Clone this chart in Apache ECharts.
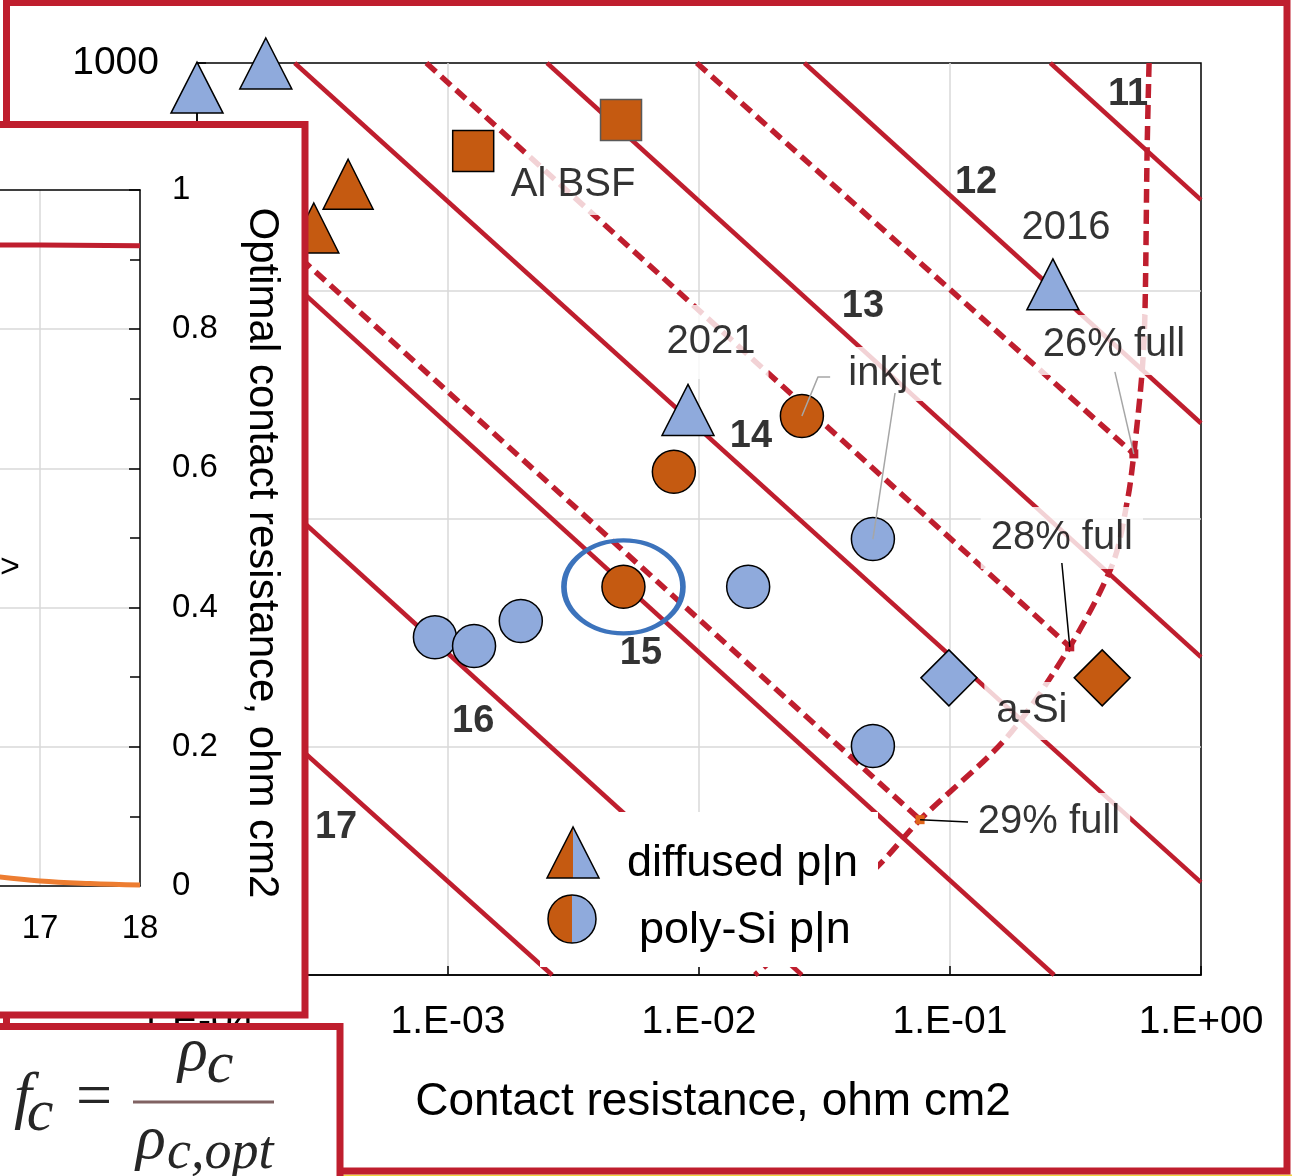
<!DOCTYPE html>
<html>
<head>
<meta charset="utf-8">
<script src="https://cdn.jsdelivr.net/npm/echarts@6/dist/echarts.min.js"></script>
<style>
  html, body { margin: 0; padding: 0; background: #fff; }
  #chart { width: 1292px; height: 1176px; }
</style>
</head>
<body>
<div id="chart"></div>
<script>
// ---------- data (contact resistance [ohm cm2], J0-type quantity on y) ----------
const effLineNames = ['11', '12', '13', '14', '15', '16', '17'];
// solid iso-efficiency lines, two end points each
const effLines = [
  [[0.251, 1000], [1, 251]],
  [[0.0263, 1000], [1, 26.3]],
  [[0.00248, 1000], [1, 2.48]],
  [[0.000245, 1000], [1, 0.255]],
  [[0.0001, 260], [0.26, 0.1]],
  [[0.0001, 25.7], [0.0257, 0.1]],
  [[0.0001, 2.5], [0.0026, 0.1]]
];
const effLabelPos = [[0.512, 724], [0.127, 298], [0.045, 85.1], [0.0161, 22.9], [0.00587, 2.58], [0.00126, 1.29], [0.000358, 0.442]];

// dashed partial-contact lines ending on the "full" curve
const partLines = [
  [[0.0098, 1000], [0.54, 19.3]],
  [[0.00082, 1000], [0.30, 2.75]],
  [[0.0001, 359], [0.076, 0.48]]
];
const fullCurve = [[0.621, 1000], [0.610, 415], [0.598, 80.2], [0.582, 43.6], [0.54, 19.3], [0.512, 12.5],
  [0.446, 6.41], [0.30, 2.75], [0.169, 1.107], [0.076, 0.48], [0.0512, 0.298], [0.0167, 0.1]];
const fullPoints = [[0.54, 19.3], [0.30, 2.75], [0.076, 0.48]];
const fullPointColors = ['#BF1E2E', '#BF1E2E', '#E0651A'];

// measured cells
const diffusedBlue = [[0.0001, 780], [0.000188, 995], [0.00904, 30.1], [0.257, 107]];
const diffusedOrange = [[0.000400, 294], [0.000292, 189]];
const polyBlue = [[0.000887, 3.03], [0.00127, 2.77], [0.00195, 3.57], [0.0157, 5.04], [0.0493, 8.17], [0.0493, 1.01]];
const polyOrange = [[0.0257, 28.3], [0.00794, 16.1], [0.0050, 5.04]];
const alBsf = [[0.00126, 411], [0.00489, 562]];
const alBsfBorders = ['#000', '#595959'];
const aSiBlue = [[0.099, 2.01]];
const aSiOrange = [[0.404, 2.01]];
const highlighted = [[0.0050, 5.04]];

// annotations
const noteTexts = ['Al BSF', '2021', 'inkjet', '2016', '26% full', '28% full', 'a-Si', '29% full'];
const notePos = [[0.00315, 292], [0.01117, 59.7], [0.0604, 43.3], [0.290, 189], [0.450, 58.0], [0.279, 8.26], [0.212, 1.44], [0.248, 0.469]];
const notePadding = [[7, 6], [14, 13], [4, 6], [0, 0], [7, 6], [8, 10], [6, 12], [6, 10]];
const grayLeaders = [
  [[0.0333, 42.0], [0.0298, 42.0], [0.0257, 28.3]],
  [[0.0604, 35.7], [0.0493, 8.17]],
  [[0.454, 44.2], [0.54, 19.3]]
];
const blackLeaders = [
  [[0.279, 6.41], [0.30, 2.75]],
  [[0.118, 0.469], [0.076, 0.48]]
];

// inset panel: optimal contact resistance
const insetRed = [[16, 0.921], [17, 0.921], [18, 0.920]];
const insetOrange = [[16.5, 0.0145], [17, 0.0072], [17.5, 0.0035], [18, 0.0014]];

// ---------- styling ----------
const FONT = 'Liberation Sans';
const SERIF = 'Liberation Serif';
const RED = '#BF1E2E';
const BLUE = '#8FAADC';
const ORANGE = '#C55A11';
const GRID = '#D9D9D9';

function fmtSci(v) {
  const e = Math.round(Math.log10(v));
  return '1.E' + (e < 0 ? '-' : '+') + String(Math.abs(e)).padStart(2, '0');
}
function fmtPlain(v) {
  const n = Number(Number(v).toPrecision(3));
  return String(n);
}

const series = [];
effLines.forEach((pts, i) => series.push({
  type: 'line', name: 'eff ' + effLineNames[i], xAxisIndex: 0, yAxisIndex: 0,
  data: pts, showSymbol: false, symbol: 'none', silent: true, z: 2,
  lineStyle: { color: RED, width: 4.5 }
}));
partLines.forEach(pts => series.push({
  type: 'line', xAxisIndex: 0, yAxisIndex: 0, data: pts, symbol: 'none', silent: true, z: 2,
  lineStyle: { color: RED, width: 5.5, type: [13, 7] }
}));
series.push({
  type: 'line', name: 'full', xAxisIndex: 0, yAxisIndex: 0, data: fullCurve, symbol: 'none',
  smooth: 0.3, silent: true, z: 2, lineStyle: { color: RED, width: 5.5, type: [14, 7] }
});
series.push({
  type: 'scatter', xAxisIndex: 0, yAxisIndex: 0, silent: true, z: 3, clip: false,
  data: fullPoints.map((p, i) => ({ value: p, itemStyle: { color: fullPointColors[i] } })),
  symbol: 'rect', symbolSize: 9, itemStyle: { opacity: 1 }
});
// annotation text boxes (white background hides the lines behind them)
series.push({
  type: 'scatter', xAxisIndex: 0, yAxisIndex: 0, silent: true, z: 3, clip: false,
  symbolSize: 1, itemStyle: { color: 'transparent' },
  data: noteTexts.map((t, i) => ({ name: t, value: notePos[i], label: { padding: notePadding[i] } })),
  label: {
    show: true, position: 'inside', formatter: '{b}', fontFamily: FONT, fontSize: 40,
    lineHeight: 46, color: '#000', backgroundColor: '#fff'
  }
});
series.push({
  type: 'scatter', xAxisIndex: 0, yAxisIndex: 0, silent: true, z: 3, clip: false,
  symbolSize: 1, itemStyle: { color: 'transparent' },
  data: effLabelPos.map((p, i) => ({ name: effLineNames[i], value: p })),
  label: {
    show: true, position: 'inside', formatter: '{b}', fontFamily: FONT, fontSize: 38,
    fontWeight: 'bold', color: '#000'
  }
});
const markerBase = { type: 'scatter', xAxisIndex: 0, yAxisIndex: 0, silent: true, z: 4, clip: false };
series.push(Object.assign({}, markerBase, {
  name: 'diffused p|n', data: diffusedBlue, symbol: 'triangle', symbolSize: [52, 51],
  itemStyle: { color: BLUE, borderColor: '#000', borderWidth: 1.5, opacity: 1 }
}));
series.push(Object.assign({}, markerBase, {
  data: diffusedOrange, symbol: 'triangle', symbolSize: [50, 50],
  itemStyle: { color: ORANGE, borderColor: '#000', borderWidth: 1.5, opacity: 1 }
}));
series.push(Object.assign({}, markerBase, {
  name: 'poly-Si p|n', data: polyBlue, symbol: 'circle', symbolSize: 43,
  itemStyle: { color: BLUE, borderColor: '#000', borderWidth: 1.5, opacity: 1 }
}));
series.push(Object.assign({}, markerBase, {
  data: polyOrange, symbol: 'circle', symbolSize: 43,
  itemStyle: { color: ORANGE, borderColor: '#000', borderWidth: 1.5, opacity: 1 }
}));
series.push(Object.assign({}, markerBase, {
  name: 'Al BSF', symbol: 'rect', symbolSize: 41,
  data: alBsf.map((p, i) => ({ value: p, itemStyle: { borderColor: alBsfBorders[i] } })),
  itemStyle: { color: ORANGE, borderWidth: 1.5, opacity: 1 }
}));
series.push(Object.assign({}, markerBase, {
  name: 'a-Si', data: aSiBlue, symbol: 'diamond', symbolSize: [56, 56],
  itemStyle: { color: BLUE, borderColor: '#000', borderWidth: 1.5, opacity: 1 }
}));
series.push(Object.assign({}, markerBase, {
  data: aSiOrange, symbol: 'diamond', symbolSize: [56, 56],
  itemStyle: { color: ORANGE, borderColor: '#000', borderWidth: 1.5, opacity: 1 }
}));
series.push(Object.assign({}, markerBase, {
  data: highlighted, symbol: 'circle', symbolSize: [119, 93],
  itemStyle: { color: 'transparent', borderColor: '#3C73BC', borderWidth: 5, opacity: 1 }
}));
grayLeaders.forEach(pts => series.push({
  type: 'line', xAxisIndex: 0, yAxisIndex: 0, data: pts, symbol: 'none', silent: true, z: 5,
  lineStyle: { color: '#A6A6A6', width: 1.5 }
}));
blackLeaders.forEach(pts => series.push({
  type: 'line', xAxisIndex: 0, yAxisIndex: 0, data: pts, symbol: 'none', silent: true, z: 5,
  lineStyle: { color: '#000', width: 1.5 }
}));
// inset curves
series.push({
  type: 'line', xAxisIndex: 1, yAxisIndex: 1, zlevel: 1, z: 6, data: insetRed, symbol: 'none',
  silent: true, lineStyle: { color: RED, width: 5 }
});
series.push({
  type: 'line', xAxisIndex: 1, yAxisIndex: 1, zlevel: 1, z: 6, data: insetOrange, symbol: 'none',
  smooth: 0.4, silent: true, lineStyle: { color: '#ED7D31', width: 5 }
});

const blackLine = { lineStyle: { color: '#000', width: 1.5 } };

const option = {
  backgroundColor: '#fff',
  animation: false,
  grid: [
    { left: 197, top: 63, width: 1004, height: 912, show: true, borderColor: '#000', borderWidth: 1.5,
      backgroundColor: 'transparent', outerBoundsMode: 'none' },
    { left: -60, top: 190, width: 200, height: 696, zlevel: 1, z: 5, outerBoundsMode: 'none' }
  ],
  xAxis: [
    { gridIndex: 0, type: 'log', logBase: 10, min: 0.0001, max: 1,
      axisLine: blackLine, axisTick: { inside: true, length: 9, lineStyle: { color: '#000', width: 1.5 } },
      splitLine: { show: true, showMinLine: false, showMaxLine: false, lineStyle: { color: GRID, width: 1.5 } },
      axisLabel: { margin: 28, fontSize: 39, fontFamily: FONT, color: '#000', formatter: fmtSci } },
    { gridIndex: 1, type: 'value', min: 16, max: 18, interval: 1, zlevel: 1, z: 5,
      axisLine: blackLine, axisTick: { show: false },
      splitLine: { show: true, showMaxLine: false, lineStyle: { color: GRID, width: 1.5 } },
      axisLabel: { margin: 26, fontSize: 33, fontFamily: FONT, color: '#000' } },
    { gridIndex: 1, type: 'value', position: 'top', min: 16, max: 18, zlevel: 1, z: 5,
      axisLine: blackLine, axisTick: { show: false }, axisLabel: { show: false }, splitLine: { show: false } }
  ],
  yAxis: [
    { gridIndex: 0, type: 'log', logBase: 10, min: 0.1, max: 1000,
      axisLine: blackLine, axisTick: { inside: true, length: 9, lineStyle: { color: '#000', width: 1.5 } },
      splitLine: { show: true, showMinLine: false, showMaxLine: false, lineStyle: { color: GRID, width: 1.5 } },
      axisLabel: { margin: 38, fontSize: 39, fontFamily: FONT, color: '#000', formatter: fmtPlain } },
    { gridIndex: 1, type: 'value', position: 'right', min: 0, max: 1, interval: 0.2, zlevel: 1, z: 5,
      axisLine: blackLine,
      axisTick: { inside: true, length: 11, lineStyle: { color: '#000', width: 1.5 } },
      minorTick: { show: true, splitNumber: 2, length: 10, lineStyle: { color: '#000', width: 1.5 } },
      splitLine: { show: true, showMinLine: false, showMaxLine: false, lineStyle: { color: GRID, width: 1.5 } },
      axisLabel: { margin: 32, fontSize: 33, fontFamily: FONT, color: '#000', formatter: fmtPlain } }
  ],
  series: series,
  graphic: [
    // outer panel frame
    { type: 'rect', zlevel: 0, z: 20, silent: true,
      shape: { x: 6.5, y: 2.5, width: 1280.5, height: 1168.5 },
      style: { fill: 'none', stroke: RED, lineWidth: 7 } },
    { type: 'rect', zlevel: 0, z: 19, silent: true,
      shape: { x: 343, y: 1174.5, width: 949, height: 2 }, style: { fill: '#F2D23C' } },
    // x-axis title
    { type: 'text', zlevel: 0, z: 10, x: 713, y: 1102, silent: true,
      style: { text: 'Contact resistance, ohm cm2', fontFamily: FONT, fontSize: 46, fill: '#000',
        align: 'center', verticalAlign: 'middle' } },
    // legend
    { type: 'rect', zlevel: 0, z: 10, silent: true, shape: { x: 540, y: 812, width: 338, height: 155 },
      style: { fill: '#fff' } },
    { type: 'polygon', zlevel: 0, z: 11, silent: true, shape: { points: [[573, 827], [547, 878], [573, 878]] },
      style: { fill: ORANGE } },
    { type: 'polygon', zlevel: 0, z: 11, silent: true, shape: { points: [[573, 827], [573, 878], [599, 878]] },
      style: { fill: BLUE } },
    { type: 'polygon', zlevel: 0, z: 12, silent: true, shape: { points: [[573, 827], [547, 878], [599, 878]] },
      style: { fill: 'none', stroke: '#000', lineWidth: 1.5 } },
    { type: 'sector', zlevel: 0, z: 11, silent: true,
      shape: { cx: 572, cy: 919, r: 24, startAngle: Math.PI / 2, endAngle: Math.PI * 1.5 }, style: { fill: ORANGE } },
    { type: 'sector', zlevel: 0, z: 11, silent: true,
      shape: { cx: 572, cy: 919, r: 24, startAngle: -Math.PI / 2, endAngle: Math.PI / 2 }, style: { fill: BLUE } },
    { type: 'circle', zlevel: 0, z: 12, silent: true, shape: { cx: 572, cy: 919, r: 24 },
      style: { fill: 'none', stroke: '#000', lineWidth: 1.5 } },
    { type: 'text', zlevel: 0, z: 12, x: 627, y: 864, silent: true,
      style: { text: 'diffused p|n', fontFamily: FONT, fontSize: 45, fill: '#000', align: 'left', verticalAlign: 'middle' } },
    { type: 'text', zlevel: 0, z: 12, x: 639, y: 931, silent: true,
      style: { text: 'poly-Si p|n', fontFamily: FONT, fontSize: 45, fill: '#000', align: 'left', verticalAlign: 'middle' } },

    // inset panel
    { type: 'rect', zlevel: 1, z: 1, silent: true, shape: { x: -20, y: 124.5, width: 325, height: 890.5 },
      style: { fill: '#fff', stroke: RED, lineWidth: 7 } },
    { type: 'text', zlevel: 1, z: 7, x: 262, y: 553, rotation: -Math.PI / 2, silent: true,
      style: { text: 'Optimal contact resistance, ohm cm2', fontFamily: FONT, fontSize: 42, fill: '#000',
        align: 'center', verticalAlign: 'middle' } },
    { type: 'text', zlevel: 1, z: 7, x: 10, y: 568, silent: true,
      style: { text: '>', fontFamily: FONT, fontSize: 34, fill: '#000', align: 'center', verticalAlign: 'middle' } },

    // formula box
    { type: 'rect', zlevel: 2, z: 1, silent: true, shape: { x: -20, y: 1026.5, width: 360, height: 200 },
      style: { fill: '#fff', stroke: RED, lineWidth: 7 } },
    { type: 'text', zlevel: 2, z: 2, x: 23, y: 1099, silent: true,
      style: { text: 'f', fontFamily: SERIF, fontStyle: 'italic', fontSize: 64, fill: '#262626', align: 'center', verticalAlign: 'middle' } },
    { type: 'text', zlevel: 2, z: 2, x: 40, y: 1114, silent: true,
      style: { text: 'c', fontFamily: SERIF, fontStyle: 'italic', fontSize: 60, fill: '#262626', align: 'center', verticalAlign: 'middle' } },
    { type: 'text', zlevel: 2, z: 2, x: 94, y: 1099, silent: true,
      style: { text: '=', fontFamily: SERIF, fontSize: 64, fill: '#262626', align: 'center', verticalAlign: 'middle' } },
    { type: 'text', zlevel: 2, z: 2, x: 193, y: 1054, silent: true,
      style: { text: 'ρ', fontFamily: SERIF, fontStyle: 'italic', fontSize: 62, fill: '#262626', align: 'center', verticalAlign: 'middle' } },
    { type: 'text', zlevel: 2, z: 2, x: 220, y: 1066, silent: true,
      style: { text: 'c', fontFamily: SERIF, fontStyle: 'italic', fontSize: 60, fill: '#262626', align: 'center', verticalAlign: 'middle' } },
    { type: 'rect', zlevel: 2, z: 2, silent: true, shape: { x: 133, y: 1100.5, width: 141, height: 3 },
      style: { fill: '#806262' } },
    { type: 'text', zlevel: 2, z: 2, x: 151, y: 1142, silent: true,
      style: { text: 'ρ', fontFamily: SERIF, fontStyle: 'italic', fontSize: 62, fill: '#262626', align: 'center', verticalAlign: 'middle' } },
    { type: 'text', zlevel: 2, z: 2, x: 167, y: 1154, silent: true,
      style: { text: 'c,opt', fontFamily: SERIF, fontStyle: 'italic', fontSize: 54, fill: '#262626', align: 'left', verticalAlign: 'middle' } }
  ]
};

const chart = echarts.init(document.getElementById('chart'), null, { renderer: 'canvas' });
chart.setOption(option);
</script>
</body>
</html>
